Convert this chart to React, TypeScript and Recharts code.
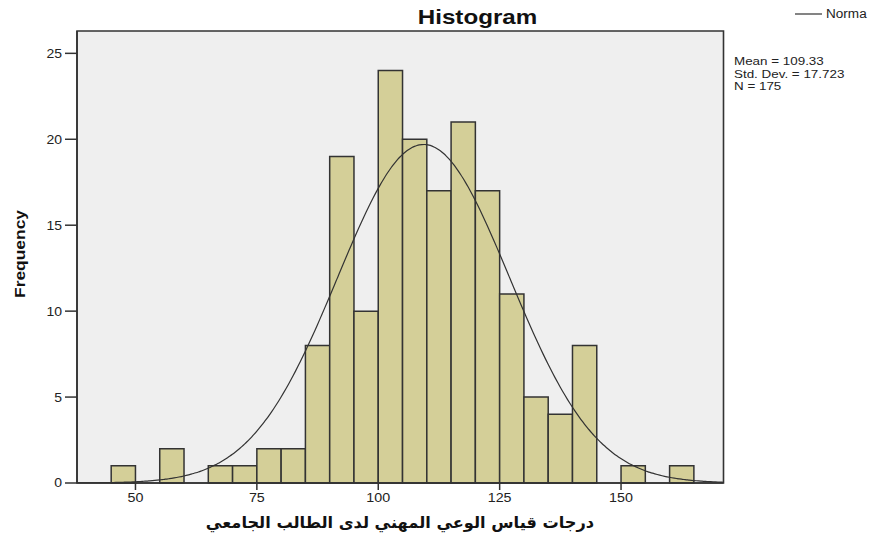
import React from 'react';
import { ComposedChart, Line, XAxis, YAxis, ReferenceArea } from 'recharts';

// ---- data ----
const binStarts = [45, 50, 55, 60, 65, 70, 75, 80, 85, 90, 95, 100, 105, 110, 115, 120, 125, 130, 135, 140, 145, 150, 155, 160];
const binCounts = [1, 0, 2, 0, 1, 1, 2, 2, 8, 19, 10, 24, 20, 17, 21, 17, 11, 5, 4, 8, 0, 1, 0, 1];
const BIN_WIDTH = 5;
const xTicks = [50, 75, 100, 125, 150];
const yTicks = [0, 5, 10, 15, 20, 25];
const MEAN = 109.33;
const STD_DEV = 17.723;
const N = 175;
const statLines = ['Mean = 109.33', 'Std. Dev. = 17.723', 'N = 175'];
const TITLE = 'Histogram';
const X_LABEL = 'درجات قياس الوعي المهني لدى الطالب الجامعي';
const Y_LABEL = 'Frequency';
const LEGEND_LABEL = 'Norma';

const X_DOMAIN: [number, number] = [37.96, 171.1];
const Y_DOMAIN: [number, number] = [0, 26.3];

// fitted normal curve defined by the stats shown in the chart
const curveXs: number[] = [];
for (let v = X_DOMAIN[0]; v <= X_DOMAIN[1] + 1e-9; v += 0.5) curveXs.push(v);
const curve = curveXs.map((x) => ({
  x,
  y: (N * BIN_WIDTH) / (STD_DEV * Math.sqrt(2 * Math.PI)) * Math.exp(-0.5 * ((x - MEAN) / STD_DEV) ** 2),
}));

const bins = binStarts.map((s, i) => ({ x1: s, x2: s + BIN_WIDTH, count: binCounts[i] }));

const FONT = '"Liberation Sans", Arial, sans-serif';
const AXIS = '#333';

const XTick = (props: any) => {
  const { x, y, payload } = props;
  return (
    <g transform={`translate(${x},${y})`}>
      <text transform="scale(1.1,1)" textAnchor="middle" dy="0.71em" fontSize={13} fontFamily={FONT} fill="#222">
        {payload.value}
      </text>
    </g>
  );
};

const YTick = (props: any) => {
  const { x, y, payload } = props;
  return (
    <g transform={`translate(${x},${y})`}>
      <text transform="scale(1.12,1)" textAnchor="end" dy="0.355em" fontSize={12.5} fontFamily={FONT} fill="#222">
        {payload.value}
      </text>
    </g>
  );
};

export default function App() {
  return (
    <div style={{ position: 'absolute', left: 0, top: 0, width: 877, height: 536, background: '#fff', overflow: 'hidden' }}>
      <ComposedChart
        width={877}
        height={536}
        data={curve}
        margin={{ top: 31, right: 153.5, bottom: 0, left: 0 }}
      >
        <XAxis
          dataKey="x"
          type="number"
          domain={X_DOMAIN}
          allowDataOverflow
          ticks={xTicks}
          height={53}
          tickSize={7}
          tickMargin={3}
          tick={XTick}
          axisLine={{ stroke: AXIS, strokeWidth: 1.6 }}
          tickLine={{ stroke: AXIS, strokeWidth: 1.5 }}
        />
        <YAxis
          type="number"
          domain={Y_DOMAIN}
          allowDataOverflow
          ticks={yTicks}
          width={77}
          tickSize={12}
          tickMargin={3}
          tick={YTick}
          axisLine={{ stroke: AXIS, strokeWidth: 1.6 }}
          tickLine={{ stroke: AXIS, strokeWidth: 1.5 }}
        />
        <ReferenceArea x1={X_DOMAIN[0]} x2={X_DOMAIN[1]} y1={Y_DOMAIN[0]} y2={Y_DOMAIN[1]} fill="#efefef" fillOpacity={1} stroke="none" />
        {bins
          .filter((b) => b.count > 0)
          .map((b) => (
            <ReferenceArea
              key={b.x1}
              x1={b.x1}
              x2={b.x2}
              y1={0}
              y2={b.count}
              fill="#d4cf98"
              fillOpacity={1}
              stroke="#333"
              strokeWidth={1.5}
            />
          ))}
        <Line
          dataKey="y"
          type="monotone"
          dot={false}
          activeDot={false}
          stroke="#333"
          strokeWidth={1.2}
          isAnimationActive={false}
        />
        <ReferenceArea x1={X_DOMAIN[0]} x2={X_DOMAIN[1]} y1={Y_DOMAIN[0]} y2={Y_DOMAIN[1]} fill="none" stroke={AXIS} strokeWidth={1.6} />
      </ComposedChart>
      <svg width={877} height={536} style={{ position: 'absolute', left: 0, top: 0, pointerEvents: 'none' }}>
        <text
          transform="translate(477.5,24) scale(1.24,1)"
          textAnchor="middle"
          fontSize={19.5}
          fontWeight="bold"
          fontFamily={FONT}
          fill="#111"
        >
          {TITLE}
        </text>
        <text
          transform="translate(19,254) rotate(-90) scale(1.16,1)"
          textAnchor="middle"
          dominantBaseline="central"
          fontSize={15}
          fontWeight="bold"
          fontFamily={FONT}
          fill="#111"
        >
          {Y_LABEL}
        </text>
        <text
          x={400}
          y={528}
          textAnchor="middle"
          fontSize={16.2}
          fontWeight="bold"
          fontFamily='"DejaVu Sans", sans-serif'
          fill="#111"
          direction="rtl"
        >
          {X_LABEL}
        </text>
        <line x1={795} y1={14} x2={822} y2={14} stroke="#333" strokeWidth={1.2} />
        <text transform="translate(826,18) scale(1.13,1)" fontSize={12} fontFamily={FONT} fill="#222">
          {LEGEND_LABEL}
        </text>
        {statLines.map((s, i) => (
          <text
            key={s}
            transform={`translate(734,${65 + i * 12.7}) scale(1.22,1)`}
            fontSize={11}
            fontFamily={FONT}
            fill="#222"
          >
            {s}
          </text>
        ))}
      </svg>
    </div>
  );
}
